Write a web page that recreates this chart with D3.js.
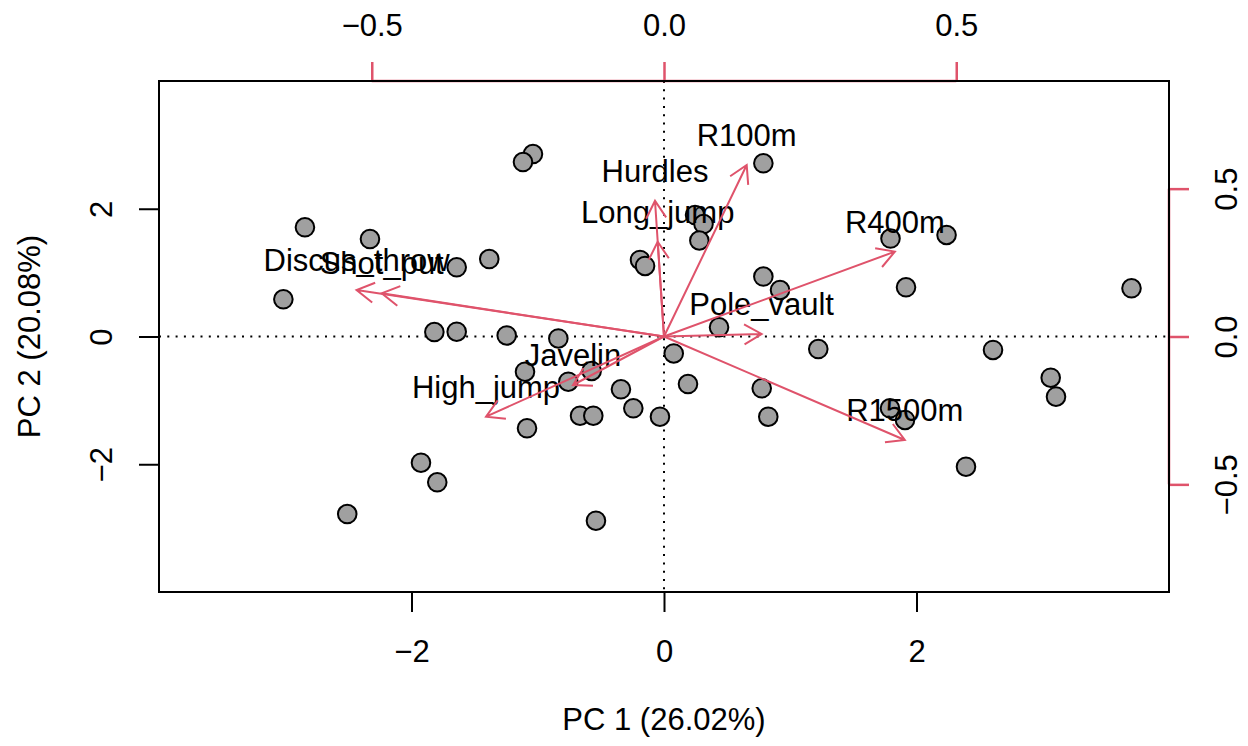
<!DOCTYPE html>
<html>
<head>
<meta charset="utf-8">
<script src="https://cdn.jsdelivr.net/npm/d3@7"></script>
<style>
body { margin: 0; background: #fff; }
text { font-family: "Liberation Sans", Arial, Helvetica, sans-serif; }
</style>
</head>
<body>
<div id="biplot"></div>
<script>
// PCA scores (individuals)
var pc1 = [-1.038, -1.117, 0.787, -2.844, -2.329, -1.642, -1.384, -0.190, -0.150, 0.246,
           0.313, 0.280, 1.794, 2.238, 0.787, 0.919, 1.917, 3.703, -3.015, -1.819,
           -1.642, -1.246, -0.837, 0.436, 1.222, 2.606, 0.077, -1.101, -0.758, -0.573,
           -0.341, 0.190, 0.774, 3.063, 3.105, -0.243, -0.665, -0.560, -0.032, -1.085,
           0.826, 1.790, 1.909, -1.925, -1.796, 2.392, -2.509, -0.539];
var pc2 = [2.857, 2.731, 2.712, 1.710, 1.526, 1.083, 1.213, 1.198, 1.104, 1.902,
           1.761, 1.503, 1.534, 1.589, 0.939, 0.728, 0.770, 0.755, 0.582, 0.070,
           0.075, 0.016, -0.031, 0.144, -0.196, -0.211, -0.266, -0.551, -0.708, -0.540,
           -0.827, -0.744, -0.811, -0.645, -0.942, -1.124, -1.240, -1.240, -1.256, -1.437,
           -1.256, -1.124, -1.307, -1.976, -2.282, -2.038, -2.779, -2.884];

// variable loadings (arrow tips)
var varNames = ["R100m", "Hurdles", "Long_jump", "R400m", "Pole_vault",
                "R1500m", "Discus_throw", "Shot_put", "Javelin", "High_jump"];
var load1 = [0.1415, -0.0154, -0.0108, 0.395, 0.167, 0.412, -0.526, -0.483, -0.1557, -0.3045];
var load2 = [0.580, 0.459, 0.3206, 0.287, 0.0085, -0.350, 0.157, 0.146, -0.164, -0.271];

var scoreTicks = [-2, 0, 2];
var loadTicks = [-0.5, 0, 0.5];
var xTitle = "PC 1 (26.02%)";
var yTitle = "PC 2 (20.08%)";

var svgWidth = 1248;
var svgHeight = 746;
var margin = {top: 81, right: 79, bottom: 154, left: 159};
var chartWidth = svgWidth - margin.left - margin.right;
var chartHeight = svgHeight - margin.top - margin.bottom;

var red = "#DF536B";
var fontSize = 31;

var svg = d3.select("#biplot")
    .append("svg")
    .attr("width", svgWidth)
    .attr("height", svgHeight);

var chartGroup = svg.append("g")
    .attr("transform", `translate(${margin.left}, ${margin.top})`);

// scales
var xScale = d3.scaleLinear().domain([-4, 4]).range([0, chartWidth]);
var yScale = d3.scaleLinear().domain([-4, 4]).range([chartHeight, 0]);
var xLoad = d3.scaleLinear().domain([-0.864, 0.864]).range([0, chartWidth]);
var yLoad = d3.scaleLinear().domain([-0.864, 0.864]).range([chartHeight, 0]);

function fmtScore(d) { return d < 0 ? "\u2212" + Math.abs(d) : String(d); }
function fmtLoad(d) { return d < 0 ? "\u2212" + Math.abs(d).toFixed(1) : d.toFixed(1); }

// dotted zero lines
chartGroup.append("line")
    .attr("x1", 0).attr("x2", chartWidth)
    .attr("y1", yScale(0)).attr("y2", yScale(0))
    .attr("stroke", "#000").attr("stroke-width", 2)
    .attr("stroke-dasharray", "2,6.3");
chartGroup.append("line")
    .attr("y1", 0).attr("y2", chartHeight)
    .attr("x1", xScale(0)).attr("x2", xScale(0))
    .attr("stroke", "#000").attr("stroke-width", 2)
    .attr("stroke-dasharray", "2,6.3");

// primary axes
var bottomAxis = d3.axisBottom(xScale).tickValues(scoreTicks).tickSize(20).tickFormat(fmtScore);
var leftAxis = d3.axisLeft(yScale).tickValues(scoreTicks).tickSize(20).tickFormat(fmtScore);

var gx = chartGroup.append("g")
    .attr("transform", `translate(0, ${chartHeight})`)
    .call(bottomAxis);
gx.select(".domain").remove();
gx.selectAll("line").attr("stroke", "#000").attr("stroke-width", 2);
gx.selectAll("text")
    .attr("y", 70).attr("dy", null)
    .attr("font-size", fontSize).attr("fill", "#000");

var gy = chartGroup.append("g").call(leftAxis);
gy.select(".domain").remove();
gy.selectAll("line").attr("stroke", "#000").attr("stroke-width", 2);
gy.selectAll("text")
    .attr("x", null).attr("dy", null)
    .attr("text-anchor", "middle")
    .attr("transform", "translate(-47,0) rotate(-90)")
    .attr("font-size", fontSize).attr("fill", "#000");

// secondary axes (loadings)
var topAxis = d3.axisTop(xLoad).tickValues(loadTicks).tickSize(19).tickFormat(fmtLoad);
var rightAxis = d3.axisRight(yLoad).tickValues(loadTicks).tickSize(20).tickFormat(fmtLoad);

var gt = chartGroup.append("g").call(topAxis);
gt.select(".domain").remove();
gt.append("line")
    .attr("x1", xLoad(loadTicks[0])).attr("x2", xLoad(loadTicks[loadTicks.length - 1]))
    .attr("y1", 0).attr("y2", 0);
gt.selectAll("line").attr("stroke", red).attr("stroke-width", 2.5);
gt.selectAll("text")
    .attr("y", -45).attr("dy", null)
    .attr("font-size", fontSize).attr("fill", "#000");

var gr = chartGroup.append("g")
    .attr("transform", `translate(${chartWidth}, 0)`)
    .call(rightAxis);
gr.select(".domain").remove();
gr.append("line")
    .attr("y1", yLoad(loadTicks[0])).attr("y2", yLoad(loadTicks[loadTicks.length - 1]))
    .attr("x1", 0).attr("x2", 0);
gr.selectAll("line").attr("stroke", red).attr("stroke-width", 2.5);
gr.selectAll("text")
    .attr("x", null).attr("dy", null)
    .attr("text-anchor", "middle")
    .attr("transform", "translate(68,0) rotate(-90)")
    .attr("font-size", fontSize).attr("fill", "#000");

// box
chartGroup.append("rect")
    .attr("x", 0).attr("y", 0)
    .attr("width", chartWidth).attr("height", chartHeight)
    .attr("fill", "none").attr("stroke", "#000").attr("stroke-width", 2);

// points
chartGroup.selectAll("circle.score")
    .data(pc1)
    .enter()
    .append("circle")
    .attr("class", "score")
    .attr("cx", d => xScale(d))
    .attr("cy", (d, i) => yScale(pc2[i]))
    .attr("r", 9.3)
    .attr("fill", "#A0A0A0")
    .attr("stroke", "#000")
    .attr("stroke-width", 2);

// variable labels
chartGroup.selectAll("text.varlab")
    .data(varNames)
    .enter()
    .append("text")
    .attr("class", "varlab")
    .attr("x", (d, i) => xLoad(load1[i]))
    .attr("y", (d, i) => yLoad(load2[i]) - 19)
    .attr("text-anchor", "middle")
    .attr("font-size", fontSize)
    .attr("fill", "#000")
    .text(d => d);

// arrows
var headLen = 20;
var headAng = Math.PI / 6;
varNames.forEach(function(name, i) {
    var x0 = xLoad(0), y0 = yLoad(0);
    var x1 = xLoad(load1[i]), y1 = yLoad(load2[i]);
    var a = Math.atan2(y1 - y0, x1 - x0);
    var p = d3.path();
    p.moveTo(x0, y0);
    p.lineTo(x1, y1);
    p.moveTo(x1 - headLen * Math.cos(a - headAng), y1 - headLen * Math.sin(a - headAng));
    p.lineTo(x1, y1);
    p.lineTo(x1 - headLen * Math.cos(a + headAng), y1 - headLen * Math.sin(a + headAng));
    chartGroup.append("path")
        .attr("d", p.toString())
        .attr("fill", "none")
        .attr("stroke", red)
        .attr("stroke-width", 2);
});

// axis titles
svg.append("text")
    .attr("x", margin.left + xScale(0))
    .attr("y", 730)
    .attr("text-anchor", "middle")
    .attr("font-size", fontSize)
    .text(xTitle);

svg.append("text")
    .attr("transform", `translate(39.5, ${margin.top + yScale(0)}) rotate(-90)`)
    .attr("text-anchor", "middle")
    .attr("font-size", fontSize)
    .text(yTitle);
</script>
</body>
</html>
